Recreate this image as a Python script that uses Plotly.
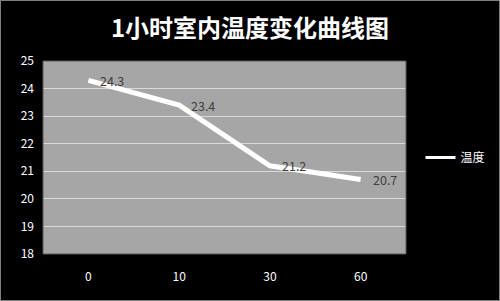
import plotly.graph_objects as go

categories = ["0", "10", "30", "60"]
temps = [24.3, 23.4, 21.2, 20.7]
y_ticks = [18, 19, 20, 21, 22, 23, 24, 25]
title_text = "1小时室内温度变化曲线图"
series_name = "温度"

FONT = "Noto Sans CJK SC"

fig = go.Figure()
fig.add_trace(go.Scatter(
    x=categories, y=temps, name=series_name,
    mode="lines", showlegend=False,
    line=dict(color="white", width=5),
))
# legend entry with thinner sample line
fig.add_trace(go.Scatter(
    x=[None], y=[None], name=series_name, mode="lines",
    line=dict(color="white", width=3), showlegend=True,
))

annotations = [
    dict(x=i, y=v, text=str(v), xref="x", yref="y", showarrow=False,
         xanchor="left", yanchor="middle", xshift=10,
         font=dict(color="#404040", size=12.5, family=FONT))
    for i, v in enumerate(temps)
]

fig.update_layout(
    width=500, height=301,
    paper_bgcolor="black",
    plot_bgcolor="#A6A6A6",
    margin=dict(l=43, r=94, t=61, b=47, autoexpand=False),
    title=dict(text="<b>" + title_text + "</b>", x=0.5, xanchor="center",
               y=0.905, yanchor="middle",
               font=dict(color="white", size=24, family=FONT)),
    font=dict(family=FONT, color="white", size=12),
    showlegend=True,
    legend=dict(x=1.04, y=0.5, xanchor="left", yanchor="middle",
                bgcolor="rgba(0,0,0,0)", font=dict(color="white", size=12, family=FONT),
                itemwidth=30),
    annotations=annotations,
    xaxis=dict(type="category", categoryorder="array", categoryarray=categories,
               range=[-0.5, 3.5], showgrid=False, zeroline=False,
               ticks="", ticklabelstandoff=14, tickfont=dict(color="white", size=12)),
    yaxis=dict(range=[18, 25], tickvals=y_ticks, showgrid=True,
               gridcolor="#D9D9D9", gridwidth=1, zeroline=False,
               ticks="", ticklabelstandoff=8, tickfont=dict(color="white", size=12)),
    shapes=[dict(type="rect", xref="paper", yref="paper", x0=0, x1=1, y0=0, y1=1,
                 line=dict(color="#595959", width=1), layer="above"),
            dict(type="rect", xref="paper", yref="paper", x0=-43/363, x1=1+94/363,
                 y0=-47/193, y1=1+61/193, line=dict(color="#808080", width=2))],
)

fig.write_html("out.html")
